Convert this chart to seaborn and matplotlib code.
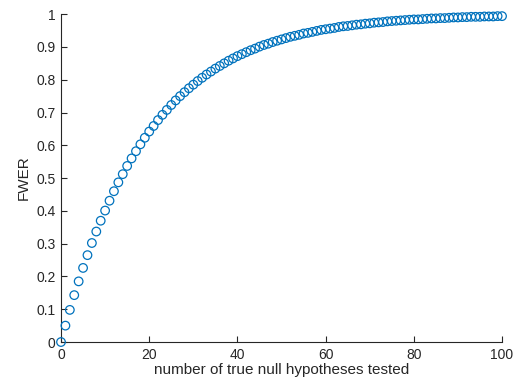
import numpy as np
import pandas as pd
import matplotlib
matplotlib.use("Agg")
import matplotlib.pyplot as plt
import seaborn as sns

# number of true null hypotheses tested
n_tests = list(range(0, 101))

# family-wise error rate
fwer = [
    0.000, 0.050, 0.098, 0.143, 0.185, 0.226, 0.265, 0.302, 0.337, 0.370,
    0.401, 0.431, 0.460, 0.487, 0.512, 0.537, 0.560, 0.582, 0.603, 0.623,
    0.642, 0.659, 0.677, 0.693, 0.708, 0.723, 0.737, 0.750, 0.762, 0.774,
    0.785, 0.796, 0.806, 0.816, 0.825, 0.834, 0.842, 0.850, 0.858, 0.865,
    0.872, 0.878, 0.884, 0.890, 0.895, 0.901, 0.906, 0.910, 0.915, 0.919,
    0.923, 0.927, 0.931, 0.934, 0.937, 0.941, 0.943, 0.946, 0.949, 0.952,
    0.954, 0.956, 0.958, 0.961, 0.963, 0.964, 0.966, 0.968, 0.969, 0.971,
    0.972, 0.974, 0.975, 0.976, 0.978, 0.979, 0.980, 0.981, 0.982, 0.983,
    0.984, 0.984, 0.985, 0.986, 0.987, 0.987, 0.988, 0.988, 0.989, 0.990,
    0.990, 0.991, 0.991, 0.992, 0.992, 0.992, 0.993, 0.993, 0.993, 0.994,
    0.994,
]

x_ticks = [0, 20, 40, 60, 80, 100]
y_ticks = [0, 0.1, 0.2, 0.3, 0.4, 0.5, 0.6, 0.7, 0.8, 0.9, 1]
y_tick_labels = ["0", "0.1", "0.2", "0.3", "0.4", "0.5", "0.6", "0.7", "0.8", "0.9", "1"]

df = pd.DataFrame({"m": n_tests, "fwer": fwer})

# -------------------------------------------------
# Style (MATLAB-like)
# -------------------------------------------------
sns.set_style("ticks")
plt.rcParams["font.family"] = ["Liberation Sans", "DejaVu Sans"]
axis_col = "#262626"

fig = plt.figure(figsize=(5.14, 3.83), dpi=100)
ax = fig.add_axes([0.1187, 0.107, 0.858, 0.856])

sns.scatterplot(
    data=df,
    x="m",
    y="fwer",
    marker="o",
    s=38,
    facecolor="none",
    edgecolor="#0072BD",
    linewidth=0.9,
    clip_on=False,
    zorder=3,
    ax=ax,
)

ax.set_xlim(0, 100)
ax.set_ylim(0, 1)
ax.set_xticks(x_ticks)
ax.set_yticks(y_ticks)
ax.set_yticklabels(y_tick_labels)

ax.set_xlabel("number of true null hypotheses tested", fontsize=11, color=axis_col, labelpad=1)
ax.set_ylabel("FWER", fontsize=11, color=axis_col, labelpad=4)

ax.tick_params(direction="in", length=4, width=0.8, colors=axis_col, labelsize=10, pad=4)
for side in ["top", "right"]:
    ax.spines[side].set_visible(False)
for side in ["left", "bottom"]:
    ax.spines[side].set_color(axis_col)
    ax.spines[side].set_linewidth(0.8)

fig.savefig("out.png", dpi=100)
plt.close(fig)
